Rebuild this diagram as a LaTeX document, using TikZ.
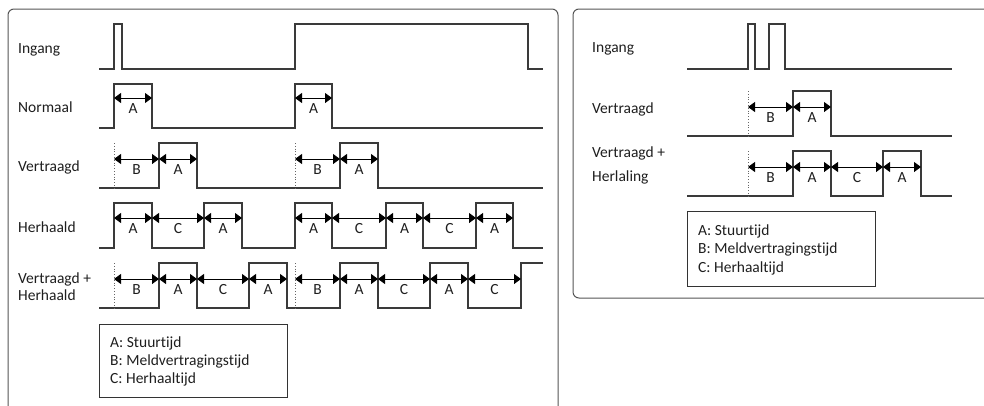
\documentclass[tikz,border=0pt]{standalone}
\usepackage{fontspec}
\setmainfont{Carlito}[Ligatures={NoCommon}]
\usetikzlibrary{arrows.meta,calc}
\definecolor{sigc}{HTML}{3A3A3A}
\definecolor{panelc}{HTML}{555555}
\definecolor{txtc}{HTML}{1E1E1E}
\tikzset{
  sig/.style={draw=sigc, line width=1.2pt, line join=miter},
  panel/.style={draw=panelc, line width=1pt, rounded corners=6pt},
  legbox/.style={draw=black!80, line width=0.9pt},
  dotv/.style={draw=black!60, line width=0.8pt, dotted},
  dimline/.style={draw=black, line width=0.9pt, {Triangle[length=7pt,width=10pt]}-{Triangle[length=7pt,width=10pt]}},
  lbl/.style={font=\fontsize{15.5}{18}\selectfont, text=txtc, inner sep=0pt},
  rowlbl/.style={font=\fontsize{15.5}{18}\selectfont, text=txtc, inner sep=0pt, anchor=base west, align=left},
}
\newcommand\dimarr[4]{%
  \coordinate (da) at (#1,#3);
  \coordinate (db) at (#2,#3);
  \draw[dimline] (da) -- (db);
  \node[lbl, anchor=base] at ($(da)!0.5!(db)+(0,15)$) {#4};
}
\begin{document}
\begin{tikzpicture}[x=1pt,y=-1pt]
\useasboundingbox (0,0) rectangle (984,405);
\clip (0,0) rectangle (984,405);
% panels
\draw[panel] (8,9) rectangle (558,440);
\draw[panel] (573,9) rectangle (1010,298);

% ---------------- left panel ----------------
\node[rowlbl] (l1) at (18,53) {Ingang};
\node[rowlbl] (l2) at (18,112) {Normaal};
\node[rowlbl] (l3) at (18,171) {Vertraagd};
\node[rowlbl] (l4) at (18,232) {Herhaald};
\node[rowlbl] (l5) at (18,283) {Vertraagd +};
\node[rowlbl] (l6) at (18,300) {Herhaald};

% Ingang
\draw[sig] (99,69) -- (114,69) -- (114,24) -- (122,24) -- (122,69) -- (295,69) -- (295,24) -- (528,24) -- (528,69) -- (543,69);
% Normaal
\draw[sig] (99,128) -- (114,128) -- (114,84) -- (152,84) -- (152,128) -- (295,128) -- (295,84) -- (332,84) -- (332,128) -- (543,128);
\dimarr{114}{152}{98}{A}
\dimarr{295}{332}{98}{A}
% Vertraagd
\draw[sig] (99,188) -- (159,188) -- (159,143) -- (197,143) -- (197,188) -- (340,188) -- (340,143) -- (378,143) -- (378,188) -- (543,188);
\draw[dotv] (114,143) -- (114,188);
\draw[dotv] (295,143) -- (295,188);
\dimarr{114}{159}{159}{B}
\dimarr{159}{197}{159}{A}
\dimarr{295}{340}{159}{B}
\dimarr{340}{378}{159}{A}
% Herhaald
\draw[sig] (99,248) -- (114,248) -- (114,203) -- (152,203) -- (152,248) -- (204,248) -- (204,203) -- (242,203) -- (242,248) -- (295,248) -- (295,203) -- (332,203) -- (332,248) -- (386,248) -- (386,203) -- (423,203) -- (423,248) -- (476,248) -- (476,203) -- (513,203) -- (513,248) -- (543,248);
\dimarr{114}{152}{218}{A}
\dimarr{152}{204}{218}{C}
\dimarr{204}{242}{218}{A}
\dimarr{295}{332}{218}{A}
\dimarr{332}{386}{218}{C}
\dimarr{386}{423}{218}{A}
\dimarr{423}{476}{218}{C}
\dimarr{476}{513}{218}{A}
% Vertraagd + Herhaald
\draw[sig] (99,308) -- (159,308) -- (159,263) -- (197,263) -- (197,308) -- (249,308) -- (249,263) -- (287,263) -- (287,308) -- (340,308) -- (340,263) -- (378,263) -- (378,308) -- (430,308) -- (430,263) -- (468,263) -- (468,308) -- (521,308) -- (521,263) -- (543,263);
\draw[dotv] (114,263) -- (114,308);
\draw[dotv] (295,263) -- (295,308);
\dimarr{114}{159}{279}{B}
\dimarr{159}{197}{279}{A}
\dimarr{197}{249}{279}{C}
\dimarr{249}{287}{279}{A}
\dimarr{295}{340}{279}{B}
\dimarr{340}{378}{279}{A}
\dimarr{378}{430}{279}{C}
\dimarr{430}{468}{279}{A}
\dimarr{468}{521}{279}{C}
% legend left
\draw[legbox] (99,324) rectangle (287,397);
\node[rowlbl] (lgA) at (110,347.5) {A: Stuurtijd};
\node[rowlbl] (lgB) at (110,365.5) {B: Meldvertragingstijd};
\node[rowlbl] (lgC) at (110,383.5) {C: Herhaaltijd};

% ---------------- right panel ----------------
\node[rowlbl] (r1) at (592,52) {Ingang};
\node[rowlbl] (r2) at (592,113) {Vertraagd};
\node[rowlbl] (r3) at (592,157) {Vertraagd +};
\node[rowlbl] (r4) at (592,181) {Herlaling};

\draw[sig] (687,69) -- (748,69) -- (748,24) -- (755,24) -- (755,69) -- (769,69) -- (769,24) -- (785,24) -- (785,69) -- (952,69);
\draw[sig] (687,136) -- (793,136) -- (793,91) -- (831,91) -- (831,136) -- (952,136);
\draw[dotv] (748,91) -- (748,136);
\dimarr{748}{793}{107}{B}
\dimarr{793}{831}{107}{A}
\draw[sig] (687,196) -- (793,196) -- (793,151) -- (831,151) -- (831,196) -- (883,196) -- (883,151) -- (921,151) -- (921,196) -- (952,196);
\draw[dotv] (748,151) -- (748,196);
\dimarr{748}{793}{167}{B}
\dimarr{793}{831}{167}{A}
\dimarr{831}{883}{167}{C}
\dimarr{883}{921}{167}{A}
% legend right
\draw[legbox] (687,211) rectangle (875,286);
\node[rowlbl] (rgA) at (698,235) {A: Stuurtijd};
\node[rowlbl] (rgB) at (698,253.5) {B: Meldvertragingstijd};
\node[rowlbl] (rgC) at (698,272) {C: Herhaaltijd};
\end{tikzpicture}
\end{document}
